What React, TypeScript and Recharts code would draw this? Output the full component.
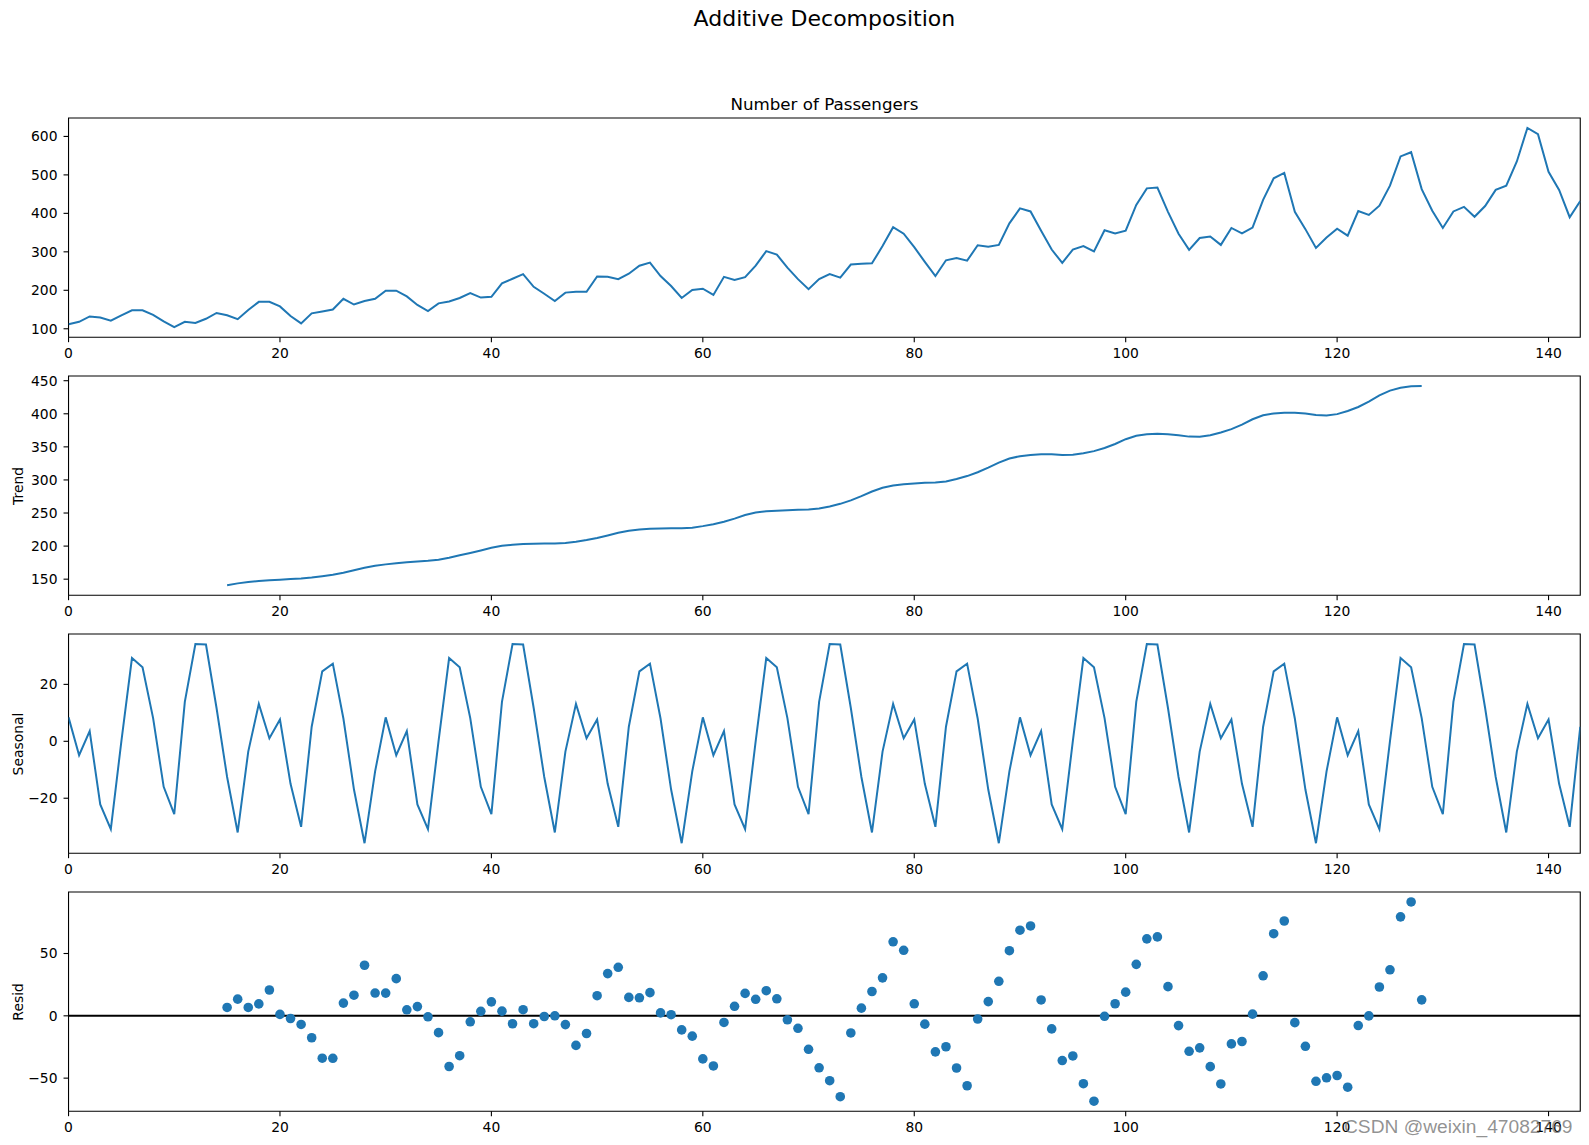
import React from 'react';
import {
  LineChart,
  Line,
  ScatterChart,
  Scatter,
  XAxis,
  YAxis,
  ReferenceArea,
  ReferenceLine,
} from 'recharts';

// ---------------- data ----------------
const PASSENGERS = [
  112, 118, 132, 129, 121, 135, 148, 148, 136, 119, 104, 118,
  115, 126, 141, 135, 125, 149, 170, 170, 158, 133, 114, 140,
  145, 150, 178, 163, 172, 178, 199, 199, 184, 162, 146, 166,
  171, 180, 193, 181, 183, 218, 230, 242, 209, 191, 172, 194,
  196, 196, 236, 235, 229, 243, 264, 272, 237, 211, 180, 201,
  204, 188, 235, 227, 234, 264, 302, 293, 259, 229, 203, 229,
  242, 233, 267, 269, 270, 315, 364, 347, 312, 274, 237, 278,
  284, 277, 317, 313, 318, 374, 413, 405, 355, 306, 271, 306,
  315, 301, 356, 348, 355, 422, 465, 467, 404, 347, 305, 336,
  340, 318, 362, 348, 363, 435, 491, 505, 404, 359, 310, 337,
  360, 342, 406, 396, 420, 472, 548, 559, 463, 407, 362, 405,
  417, 391, 419, 461, 472, 535, 622, 606, 508, 461, 390, 432,
];

// trend is defined from index 15 to 128
const TREND_START = 15;
const TREND = [
  140.85, 143.65, 145.87, 147.28, 148.25, 149.18, 150.08, 151.0, 152.48, 154.47,
  156.82, 159.8, 163.38, 167.23, 170.3, 172.37, 174.08, 175.62, 176.8, 177.67,
  179.4, 182.4, 186.02, 189.65, 193.35, 197.37, 200.38, 202.17, 203.1, 203.62,
  204.08, 203.98, 204.65, 206.58, 209.13, 212.23, 216.05, 220.12, 223.1, 225.0,
  226.13, 226.65, 227.03, 227.08, 227.9, 230.17, 233.1, 236.75, 241.57, 246.88,
  250.67, 252.58, 253.37, 254.08, 255.0, 255.42, 256.83, 259.87, 263.87, 269.05,
  275.42, 282.52, 288.13, 291.45, 293.38, 294.7, 295.62, 295.97, 297.72, 301.32,
  305.83, 311.58, 318.52, 326.13, 332.32, 335.9, 337.78, 338.72, 338.67, 337.78,
  338.13, 340.2, 343.53, 348.25, 354.32, 361.57, 366.82, 369.03, 369.67, 368.92,
  367.42, 365.48, 365.28, 367.63, 371.62, 376.87, 383.52, 391.7, 397.78, 400.55,
  401.65, 401.48, 400.4, 398.33, 397.32, 399.47, 404.15, 410.25, 418.27, 427.77,
  435.0, 439.32, 441.65, 442.05,
];

const SEASONAL = [
  8.41, -4.89, 3.55, -22.19, -30.89, 0.09, 29.26, 26.0, 8.13, -16.0, -25.56, 13.88, 34.2, 34.01, 11.69,
  -12.55, -32.02, -3.6, 13.15, 1.04, 7.64, -14.93, -30.06, 5.12, 24.56, 27.28, 8.01, -16.95, -35.81, -10.57,
  8.41, -4.89, 3.55, -22.19, -30.89, 0.09, 29.26, 26.0, 8.13, -16.0, -25.56, 13.88, 34.2, 34.01, 11.69,
  -12.55, -32.02, -3.6, 13.15, 1.04, 7.64, -14.93, -30.06, 5.12, 24.56, 27.28, 8.01, -16.95, -35.81, -10.57,
  8.41, -4.89, 3.55, -22.19, -30.89, 0.09, 29.26, 26.0, 8.13, -16.0, -25.56, 13.88, 34.2, 34.01, 11.69,
  -12.55, -32.02, -3.6, 13.15, 1.04, 7.64, -14.93, -30.06, 5.12, 24.56, 27.28, 8.01, -16.95, -35.81, -10.57,
  8.41, -4.89, 3.55, -22.19, -30.89, 0.09, 29.26, 26.0, 8.13, -16.0, -25.56, 13.88, 34.2, 34.01, 11.69,
  -12.55, -32.02, -3.6, 13.15, 1.04, 7.64, -14.93, -30.06, 5.12, 24.56, 27.28, 8.01, -16.95, -35.81, -10.57,
  8.41, -4.89, 3.55, -22.19, -30.89, 0.09, 29.26, 26.0, 8.13, -16.0, -25.56, 13.88, 34.2, 34.01, 11.69,
  -12.55, -32.02, -3.6, 13.15, 1.04, 7.64, -14.93, -30.06, 5.12,
];

// residuals defined from index 15 to 128
const RESID_START = 15;
const RESID = [
  6.7, 13.37, 6.73, 9.57, 20.71, 1.18, -2.15, -6.94, -17.6, -34.02,
  -34.1, 10.19, 16.56, 40.58, 18.27, 18.22, 29.81, 4.83, 7.39, -0.78,
  -13.49, -40.66, -32.01, -4.78, 3.65, 11.2, 3.74, -6.37, 4.89, -6.31,
  -0.53, 0.04, -7.06, -23.73, -14.18, 16.13, 33.88, 38.94, 14.78, 14.45,
  18.59, 2.34, 0.91, -11.28, -16.33, -34.58, -40.21, -5.3, 7.62, 18.0,
  13.25, 20.15, 13.64, -3.21, -10.0, -26.86, -41.71, -52.07, -64.88, -13.74,
  6.14, 19.5, 30.46, 59.4, 52.58, 9.66, -6.69, -28.91, -24.83, -41.87,
  -56.11, -2.59, 11.43, 27.68, 52.25, 68.69, 72.11, 12.73, -10.48, -35.9,
  -32.22, -54.46, -68.53, -0.38, 9.68, 19.0, 41.31, 61.77, 63.32, 23.39,
  -7.86, -28.46, -25.69, -40.78, -54.66, -22.51, -20.59, 1.36, 32.1, 65.9,
  76.07, -5.49, -24.46, -52.53, -49.75, -47.88, -57.26, -7.8, -0.08, 23.12,
  36.91, 79.42, 91.35, 12.82,
];

const X_TICKS = [0, 20, 40, 60, 80, 100, 120, 140];
const OBS_TICKS = [100, 200, 300, 400, 500, 600];
const TREND_TICKS = [150, 200, 250, 300, 350, 400, 450];
const SEAS_TICKS = [-20, 0, 20];
const RESID_TICKS = [-50, 0, 50];

const TITLE = 'Additive Decomposition';
const SUBTITLE = 'Number of Passengers';
const Y_LABELS = ['Trend', 'Seasonal', 'Resid'];
const WATERMARK = 'CSDN @weixin_47082769';

// ---------------- layout / style ----------------
const W = 1589;
const H = 1145;
const PLOT_LEFT = 68.5;
const PLOT_RIGHT = 1580.3;
const PLOT_H = 219.2;
const PLOT_TOPS = [118, 376.3, 634.4, 892.3];
const MT = 10;
const XAXIS_H = 30;
const BLUE = '#1f77b4';
const FONT = '"DejaVu Sans", sans-serif';
const X_DOMAIN: [number, number] = [0, 143];

const rows = PASSENGERS.map((v, i) => {
  const ti = i - TREND_START;
  return {
    i,
    v,
    t: ti >= 0 && ti < TREND.length ? TREND[ti] : null,
    s: SEASONAL[i],
  };
});
const residPoints = RESID.map((r, k) => ({ i: k + RESID_START, r }));

const fmt = (v: number) => String(v).replace('-', '\u2212');

const tickStyle = { fill: '#000', fontSize: 13.9, fontFamily: FONT };
const tickLine = { stroke: '#000', strokeWidth: 1.1 };

function xAxis() {
  return (
    <XAxis
      dataKey="i"
      type="number"
      domain={X_DOMAIN}
      ticks={X_TICKS}
      interval={0}
      allowDataOverflow
      axisLine={false}
      tickLine={tickLine}
      tickSize={5}
      tickMargin={6}
      tick={tickStyle}
      height={XAXIS_H}
    />
  );
}

function yAxis(domain: [number, number], ticks: number[], dataKey?: string) {
  return (
    <YAxis
      dataKey={dataKey}
      type="number"
      domain={domain}
      ticks={ticks}
      interval={0}
      allowDataOverflow
      axisLine={false}
      tickLine={tickLine}
      tickSize={5}
      tickMargin={6}
      tick={tickStyle}
      tickFormatter={fmt}
      width={PLOT_LEFT}
    />
  );
}

function box(domain: [number, number]) {
  return (
    <ReferenceArea
      x1={X_DOMAIN[0]}
      x2={X_DOMAIN[1]}
      y1={domain[0]}
      y2={domain[1]}
      fill="none"
      fillOpacity={0}
      stroke="#000"
      strokeWidth={1.1}
      ifOverflow="visible"
    />
  );
}

const margin = { top: MT, right: W - PLOT_RIGHT, bottom: 0, left: 0 };
const chartH = MT + PLOT_H + XAXIS_H;

const panelStyle = (k: number): React.CSSProperties => ({
  position: 'absolute',
  left: 0,
  top: PLOT_TOPS[k] - MT,
});

const OBS_DOMAIN: [number, number] = [78.1, 647.9];
const TREND_DOMAIN: [number, number] = [125.79, 457.11];
const SEAS_DOMAIN: [number, number] = [-39.31, 37.7];
const RESID_DOMAIN: [number, number] = [-76.52, 99.35];

export default function App() {
  const yLabelCenters = [1, 2, 3].map((k) => PLOT_TOPS[k] + PLOT_H / 2);
  return (
    <div
      style={{
        position: 'absolute',
        left: 0,
        top: 0,
        width: W,
        height: H,
        background: '#fff',
        overflow: 'hidden',
      }}
    >
      <div style={panelStyle(0)}>
        <LineChart width={W} height={chartH} data={rows} margin={margin}>
          {xAxis()}
          {yAxis(OBS_DOMAIN, OBS_TICKS)}
          <Line
            dataKey="v"
            stroke={BLUE}
            strokeWidth={2}
            dot={false}
            isAnimationActive={false}
            type="linear"
          />
          {box(OBS_DOMAIN)}
        </LineChart>
      </div>
      <div style={panelStyle(1)}>
        <LineChart width={W} height={chartH} data={rows} margin={margin}>
          {xAxis()}
          {yAxis(TREND_DOMAIN, TREND_TICKS)}
          <Line
            dataKey="t"
            stroke={BLUE}
            strokeWidth={2}
            dot={false}
            isAnimationActive={false}
            type="linear"
          />
          {box(TREND_DOMAIN)}
        </LineChart>
      </div>
      <div style={panelStyle(2)}>
        <LineChart width={W} height={chartH} data={rows} margin={margin}>
          {xAxis()}
          {yAxis(SEAS_DOMAIN, SEAS_TICKS)}
          <Line
            dataKey="s"
            stroke={BLUE}
            strokeWidth={2}
            dot={false}
            isAnimationActive={false}
            type="linear"
          />
          {box(SEAS_DOMAIN)}
        </LineChart>
      </div>
      <div style={panelStyle(3)}>
        <ScatterChart width={W} height={chartH} margin={margin}>
          {xAxis()}
          {yAxis(RESID_DOMAIN, RESID_TICKS, 'r')}
          <ReferenceLine y={0} stroke="#000" strokeWidth={2} />
          <Scatter
            data={residPoints}
            dataKey="r"
            fill={BLUE}
            isAnimationActive={false}
            shape={(p: any) => <circle cx={p.cx} cy={p.cy} r={4.8} fill={BLUE} />}
          />
          {box(RESID_DOMAIN)}
        </ScatterChart>
      </div>
      <svg
        width={W}
        height={H}
        style={{ position: 'absolute', left: 0, top: 0, pointerEvents: 'none' }}
      >
        <text
          x={(PLOT_LEFT + PLOT_RIGHT) / 2}
          y={18.5}
          textAnchor="middle"
          dominantBaseline="central"
          fontFamily={FONT}
          fontSize={22}
          fill="#000"
        >
          {TITLE}
        </text>
        <text
          x={(PLOT_LEFT + PLOT_RIGHT) / 2}
          y={104.3}
          textAnchor="middle"
          dominantBaseline="central"
          fontFamily={FONT}
          fontSize={16.7}
          fill="#000"
        >
          {SUBTITLE}
        </text>
        {Y_LABELS.map((lab, k) => (
          <text
            key={lab}
            x={18.3}
            y={yLabelCenters[k]}
            textAnchor="middle"
            dominantBaseline="central"
            fontFamily={FONT}
            fontSize={13.9}
            fill="#000"
            transform={`rotate(-90 18.3 ${yLabelCenters[k]})`}
          >
            {lab}
          </text>
        ))}
        <text
          x={1344}
          y={1133}
          fontFamily='"Liberation Sans", Arial, sans-serif'
          fontSize={19.2}
          fill="rgba(110,110,110,0.75)"
        >
          {WATERMARK}
        </text>
      </svg>
    </div>
  );
}
